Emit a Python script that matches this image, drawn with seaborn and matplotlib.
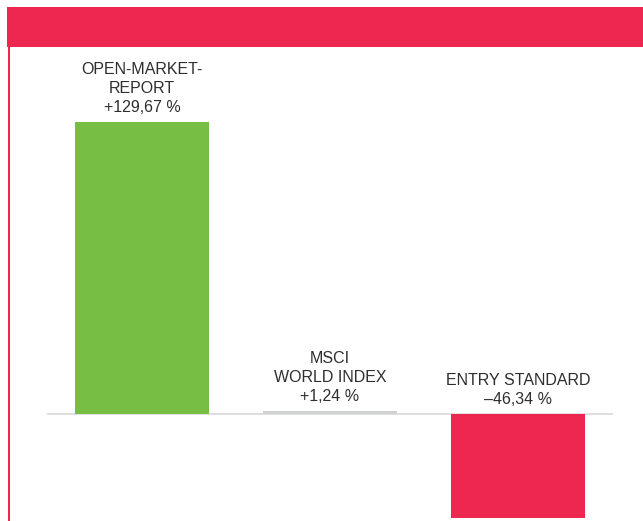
import matplotlib
matplotlib.use("Agg")
import matplotlib.pyplot as plt
from matplotlib.patches import Rectangle
from matplotlib import font_manager
import seaborn as sns
import pandas as pd

# data
categories = ["OPEN-MARKET-\nREPORT", "MSCI\nWORLD INDEX", "ENTRY STANDARD"]
values = [129.67, 1.24, -46.34]
value_labels = ["+129,67 %", "+1,24 %", "\u201346,34 %"]
bar_colors = ["#76bf43", "#cfd0d2", "#ee2750"]

RED = "#ee2750"

sns.set_theme(style="white")
names = {f.name for f in font_manager.fontManager.ttflist}
fam = ["Liberation Sans Narrow", "DejaVu Sans"] if "Liberation Sans Narrow" in names else ["Liberation Sans", "DejaVu Sans"]
plt.rcParams["font.family"] = fam

df = pd.DataFrame({"cat": categories, "val": values})

W, H = 643, 521
fig = plt.figure(figsize=(W / 100, H / 100), dpi=100)

# header band and left rule
fig.patches.append(Rectangle((7 / W, 1 - 47 / H), 1, 40 / H, transform=fig.transFigure,
                             facecolor=RED, edgecolor="none", zorder=0))
fig.patches.append(Rectangle((8 / W, 0), 2 / W, 1 - 47 / H, transform=fig.transFigure,
                             facecolor=RED, edgecolor="none", zorder=0))

ax = fig.add_axes([47 / W, 0, (613 - 47) / W, (H - 47) / H])
sns.barplot(data=df, x="cat", y="val", hue="cat", order=categories, hue_order=categories,
            palette=bar_colors, width=0.71, linewidth=0, saturation=1, legend=False, ax=ax)
ax.axhline(0, color="#d9d9d9", lw=1.2, zorder=0.5)
ax.set_xlim(-0.505, 2.505)
ax.set_ylim(-47.5, 163.0)
ax.axis("off")

for i, (c, v, lab) in enumerate(zip(categories, values, value_labels)):
    ax.annotate(c + "\n" + lab, xy=(i, max(v, 0)), xytext=(0, 5), textcoords="offset points",
                ha="center", va="bottom", fontsize=11.5, color="#2e2e2e", linespacing=1.33)

fig.savefig("out.png", dpi=100)
